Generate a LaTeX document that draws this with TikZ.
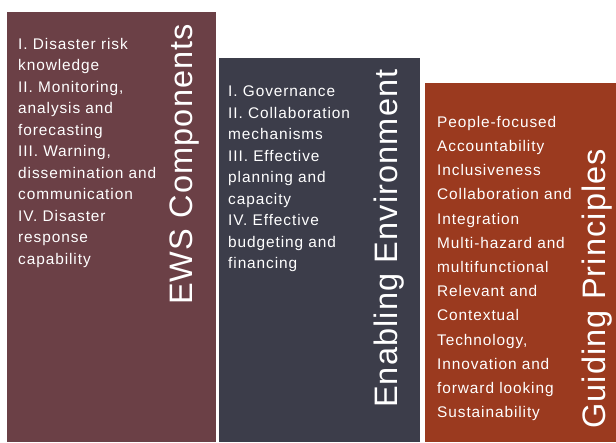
\documentclass[tikz,border=0pt]{standalone}
\usepackage{fontspec}
\setmainfont{Liberation Sans}
\newfontfamily\listfont[LetterSpace=6]{Liberation Sans}
\newfontfamily\titlefont[LetterSpace=3.5]{Liberation Sans}
\definecolor{ewsmaroon}{HTML}{6B4046}
\definecolor{envslate}{HTML}{3C3D4A}
\definecolor{guiderust}{HTML}{9B3A1F}
\tikzset{
  listtext/.style={anchor=north west,inner sep=0pt,align=left,text=white,
    font=\listfont\fontsize{15.4}{#1}\selectfont},
  listtext/.default=21.5,
  titletext/.style={anchor=base west,inner sep=0pt,rotate=90,text=white,
    font=\titlefont\fontsize{32.5}{36}\selectfont}
}
\begin{document}
\begin{tikzpicture}[x=1pt,y=-1pt]
\useasboundingbox (0,0) rectangle (616,442);
% the three columns
\fill [ewsmaroon](7,12) rectangle (216,442);
\fill [envslate](219,58) rectangle (420,442);
\fill [guiderust](425,83) rectangle (616,442);
% EWS components
\node [listtext] (ewslist) at (18,38) {I. Disaster risk\\knowledge\\II. Monitoring,\\analysis and\\forecasting\\III. Warning,\\dissemination and\\communication\\IV. Disaster\\response\\capability};
\node [titletext] (ewstitle) at (192,305) {EWS Components};
% enabling environment
\node [listtext] (envlist) at (228,86) {I. Governance\\II. Collaboration\\mechanisms\\III. Effective\\planning and\\capacity\\IV. Effective\\budgeting and\\financing};
\node [titletext] (envtitle) at (397,408) {Enabling Environment};
% guiding principles
\node [listtext=24.2] (guidelist) at (437,116) {People-focused\\Accountability\\Inclusiveness\\Collaboration and\\Integration\\Multi-hazard and\\multifunctional\\Relevant and\\Contextual\\Technology,\\Innovation and\\forward looking\\Sustainability};
\node [titletext] (guidetitle) at (605,429) {Guiding Principles};
\end{tikzpicture}
\end{document}
